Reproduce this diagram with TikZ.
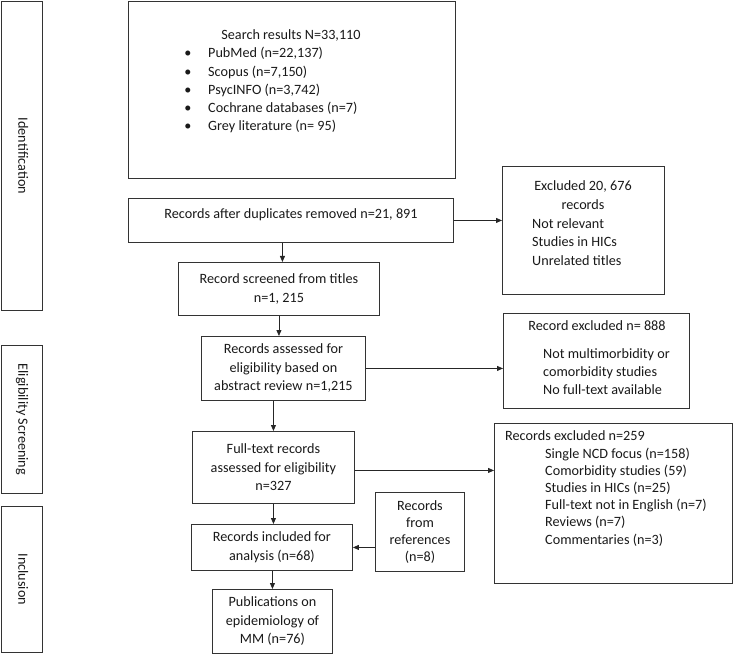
\documentclass[tikz,border=0pt]{standalone}
\usepackage{fontspec}
\setmainfont{Carlito}
\usetikzlibrary{arrows.meta}
\begin{document}
\begin{tikzpicture}[x=1pt,y=-1pt,
  box/.style={draw=black!80, line width=0.9pt, inner sep=0pt, anchor=north west,
    font=\fontsize{14.2}{18.5}\selectfont, align=center, text=black!90},
  ln/.style={inner sep=0pt, font=\fontsize{14.2}{18.5}\selectfont, text height=10.5pt, text depth=3.3pt, text=black!90},
  arr/.style={draw=black!85, line width=0.8pt, -{Triangle[length=6pt,width=5pt]}}]
\useasboundingbox (0,0) rectangle (734,655);
% side labels
\node[box, minimum width=41pt, minimum height=309pt] (ident) at (1,1) {};
\node[box, minimum width=41pt, minimum height=148pt] (elig) at (1,345) {};
\node[box, minimum width=41pt, minimum height=146pt] (inclu) at (1,506) {};
\node[ln, rotate=-90] (identt) at (ident.center) {Identification};
\node[ln, rotate=-90] (eligt) at (elig.center) {Eligibility Screening};
\node[ln, rotate=-90] (inclut) at (inclu.center) {Inclusion};
% search
\node[box, minimum width=327pt, minimum height=177pt] (search) at (128,1) {};
\node[ln] (head) at (291,36) {Search results N=33,110};
\foreach \i/\y/\t in {1/54/PubMed (n=22{,}137), 2/73/Scopus (n=7{,}150), 3/91/PsycINFO (n=3{,}742), 4/109/Cochrane databases (n=7), 5/127/Grey literature (n= 95)} {
  \node[ln] (b\i) at (188,\y) {\textbullet};
  \node[ln, anchor=west] (s\i) at (208,\y) {\t};
}
% duplicates
\node[box, minimum width=325pt, minimum height=44pt] (dup) at (128,198) {};
\node[ln] (dupt) at (291,215) {Records after duplicates removed n=21, 891};
% excluded 1
\node[box, minimum width=162pt, minimum height=128pt] (excla) at (502,166) {};
\node[ln] (ea1) at (583,187) {Excluded 20, 676};
\node[ln] (ea2) at (583,206) {records};
\node[ln, anchor=west] (ea3) at (532,225) {Not relevant};
\node[ln, anchor=west] (ea4) at (532,243) {Studies in HICs};
\node[ln, anchor=west] (ea5) at (532,262) {Unrelated titles};
% screened
\node[box, minimum width=201pt, minimum height=53pt] (screen) at (178,262) {Record screened from titles\\n=1, 215};
% assessed
\node[box, minimum width=164pt, minimum height=64pt] (assess) at (201,336) {Records assessed for\\eligibility based on\\abstract review n=1,215};
% excluded 2
\node[box, minimum width=186pt, minimum height=95pt] (exclb) at (503,313) {};
\node[ln] (eb1) at (597,327) {Record excluded n= 888};
\node[ln, anchor=west] (eb2) at (543,355) {Not multimorbidity or};
\node[ln, anchor=west] (eb3) at (543,373) {comorbidity studies};
\node[ln, anchor=west] (eb4) at (543,391) {No full-text available};
% full text
\node[box, minimum width=162pt, minimum height=72pt] (full) at (192,431) {Full-text records\\assessed for eligibility\\n=327};
% excluded 3
\node[box, minimum width=238pt, minimum height=160pt] (exclc) at (494,423) {};
\node[ln, anchor=west] (ec0) at (505,437) {Records excluded n=259};
\foreach \i/\y/\t in {1/455/Single NCD focus (n=158), 2/472/Comorbidity studies (59), 3/489/Studies in HICs (n=25), 4/506/Full-text not in English (n=7), 5/523/Reviews (n=7), 6/541/Commentaries (n=3)} {
  \node[ln, anchor=west] (ec\i) at (545,\y) {\t};
}
% included
\node[box, minimum width=161pt, minimum height=46pt] (incl) at (191,524) {Records included for\\analysis (n=68)};
% references
\node[box, minimum width=89pt, minimum height=79pt, font=\fontsize{14.2}{17}\selectfont] (refs) at (375,492) {Records\\from\\references\\(n=8)};
% publications
\node[box, minimum width=120pt, minimum height=64pt] (pub) at (212,589) {Publications on\\epidemiology of\\MM (n=76)};
% arrows
\draw[arr] (dup.east) -- (dup.east -| excla.west);
\draw[arr] ([xshift=3.5pt]screen.north |- dup.south) -- ([xshift=3.5pt]screen.north);
\draw[arr] (screen.south) -- (screen.south |- assess.north);
\draw[arr] (assess.east) -- (assess.east -| exclb.west);
\draw[arr] (full.north |- assess.south) -- (full.north);
\draw[arr] ([yshift=-3pt]full.east) -- ([yshift=-3pt]full.east -| exclc.west);
\draw[arr] (full.south) -- (full.south |- incl.north);
\draw[arr] (incl.east -| refs.west) -- (incl.east);
\draw[arr] (pub.north |- incl.south) -- (pub.north);
\end{tikzpicture}
\end{document}
